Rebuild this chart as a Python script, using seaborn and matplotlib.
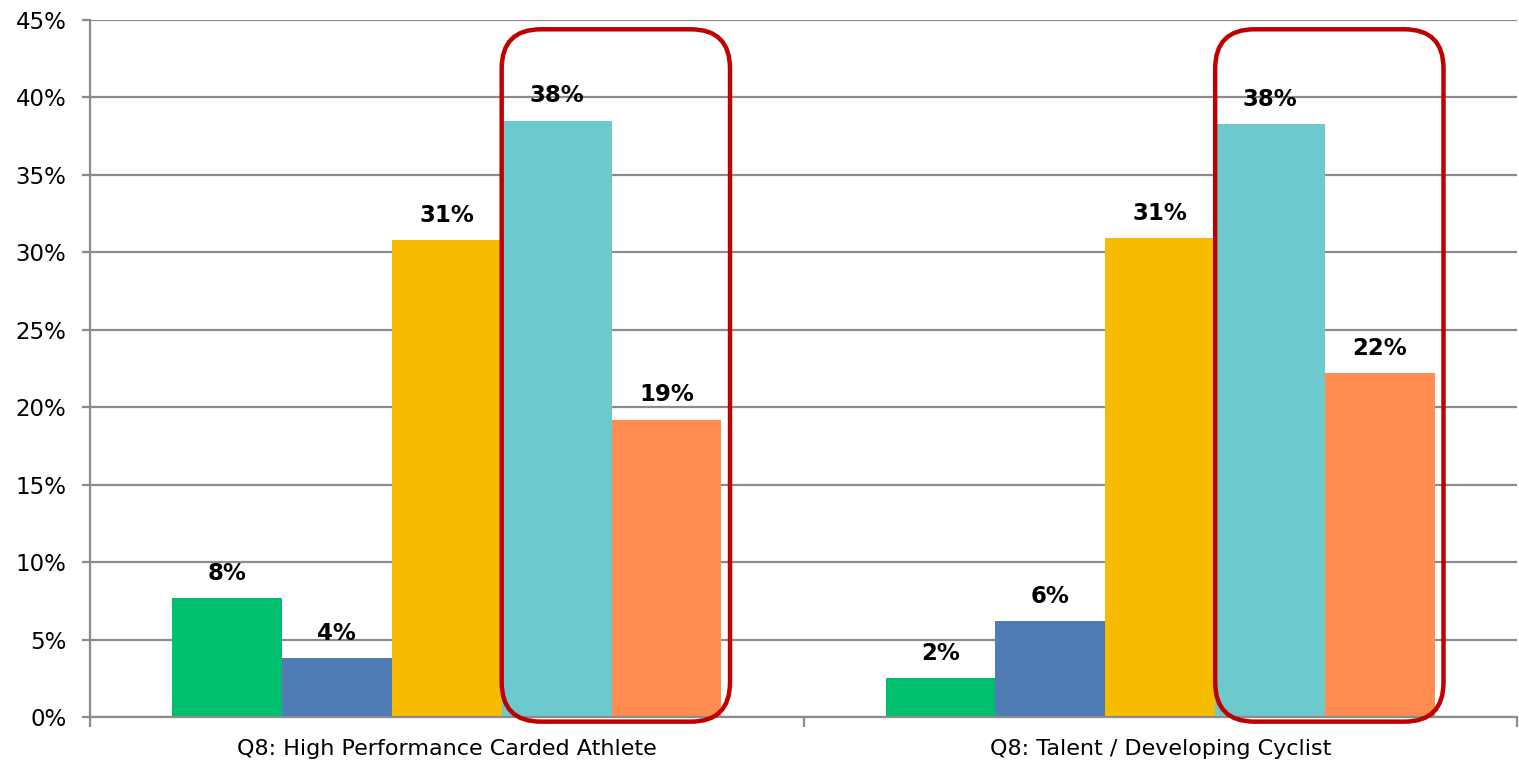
import seaborn as sns
import matplotlib.pyplot as plt
import pandas as pd
from matplotlib.patches import FancyBboxPatch
from matplotlib.ticker import FuncFormatter, FixedLocator

grupos = ["Q8: High Performance Carded Athlete", "Q8: Talent / Developing Cyclist"]
respuestas = ["Opcion 1", "Opcion 2", "Opcion 3", "Opcion 4", "Opcion 5"]
valores_hp = [7.7, 3.8, 30.8, 38.5, 19.2]
valores_talent = [2.5, 6.2, 30.9, 38.3, 22.2]
colores = ["#00BF6F", "#4F7CB3", "#F7BC00", "#6CC9CD", "#FF8C50"]

filas = []
for g, vals in zip(grupos, [valores_hp, valores_talent]):
    for r, v in zip(respuestas, vals):
        filas.append({"grupo": g, "respuesta": r, "valor": v})
df = pd.DataFrame(filas)

sns.set_style("white")
plt.rcParams["font.family"] = ["DejaVu Sans"]

fig = plt.figure(figsize=(15.19, 7.67), dpi=100)
ax = fig.add_axes([90 / 1519, 1 - 717 / 767, (1517 - 90) / 1519, (717 - 20) / 767])

sns.barplot(data=df, x="grupo", y="valor", hue="respuesta", palette=colores,
            width=0.77, saturation=1, ax=ax, legend=False, linewidth=0)

ax.set_xlim(-0.5, 1.5)
ax.set_ylim(0, 45)
ax.set_yticks(range(0, 50, 5))
ax.yaxis.set_major_formatter(FuncFormatter(lambda v, p: f"{v:.0f}%"))
ax.set_xlabel("")
ax.set_ylabel("")

gris = "#8c8c8c"
ax.grid(axis="y", color=gris, linewidth=1.6)
ax.set_axisbelow(True)
for s in ["top", "right"]:
    ax.spines[s].set_visible(False)
for s in ["left", "bottom"]:
    ax.spines[s].set_color(gris)
    ax.spines[s].set_linewidth(1.6)

ax.tick_params(axis="y", left=True, length=6, width=1.6, color=gris,
               labelsize=16.5, labelcolor="black", pad=11)
ax.tick_params(axis="x", which="major", bottom=False, length=0, labelsize=16,
               labelcolor="black", pad=16)
ax.xaxis.set_minor_locator(FixedLocator([-0.5, 0.5, 1.5]))
ax.tick_params(axis="x", which="minor", bottom=True, length=7, width=1.6, color=gris)

for cont in ax.containers:
    etiquetas = [f"{b.get_height():.0f}%" for b in cont]
    ax.bar_label(cont, labels=etiquetas, padding=9.5, fontsize=16.5,
                 fontweight="bold", color="black")

# rounded red boxes around the last two bars of each group
fig.canvas.draw()
p0 = ax.transData.transform((0, 0))
p1 = ax.transData.transform((1, 1))
aspecto = (p1[0] - p0[0]) / (p1[1] - p0[1])
for i in range(len(grupos)):
    b4 = ax.containers[3][i]
    b5 = ax.containers[4][i]
    x0 = b4.get_x()
    x1 = b5.get_x() + b5.get_width() + 0.012
    caja = FancyBboxPatch((x0, -0.3), x1 - x0, 44.7,
                          boxstyle="round,pad=0,rounding_size=0.055",
                          mutation_aspect=aspecto, transform=ax.transData,
                          facecolor="none", edgecolor="#C00000", linewidth=3.2,
                          clip_on=False, zorder=5)
    ax.add_patch(caja)

fig.savefig("out.png", dpi=100)
